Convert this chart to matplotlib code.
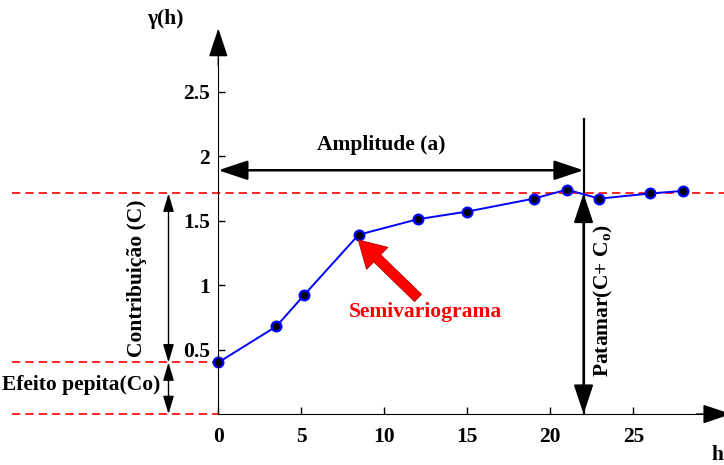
import matplotlib.pyplot as plt

# semivariogram values
lag = [0, 3.5, 5.15, 8.45, 12.0, 15.0, 19.0, 21.0, 22.95, 26.0, 28.0]
gamma = [0.40, 0.68, 0.92, 1.39, 1.51, 1.57, 1.67, 1.74, 1.67, 1.71, 1.73]

xticks = [0, 5, 10, 15, 20, 25]
yticks = [0.5, 1, 1.5, 2, 2.5]
xticklabels = ['0', '5', '10', '15', '20', '25']
yticklabels = ['0.5', '1', '1.5', '2', '2.5']

nugget = 0.40     # Co
sill = 1.71       # C + Co
rng = 22.0        # a
note_x = -3.0     # x of the C / Co arrows

plt.rcParams['font.family'] = ['Liberation Serif', 'DejaVu Serif']
plt.rcParams['font.weight'] = 'bold'
fs = 15.5

fig = plt.figure(figsize=(7.24, 4.65), dpi=100)
ax = fig.add_axes([0, 0, 1, 1])
ax.set_xlim(-13.15, 30.46)
ax.set_ylim(-0.395, 3.21)

for s in ['top', 'right']:
    ax.spines[s].set_visible(False)
ax.spines['left'].set_position(('data', 0))
ax.spines['bottom'].set_position(('data', 0))
ax.spines['left'].set_bounds(0, 2.9)
ax.spines['bottom'].set_bounds(0, 30.5)
ax.set_xticks(xticks)
ax.set_xticklabels(xticklabels)
ax.set_yticks(yticks)
ax.set_yticklabels(yticklabels)
ax.tick_params(direction='in', length=5, labelsize=fs, width=1)
ax.tick_params(axis='x', pad=9)
ax.tick_params(axis='y', pad=6)
for lab in ax.get_xticklabels() + ax.get_yticklabels():
    lab.set_fontweight('bold')


def arrow(x0, y0, x1, y1, style, hl, hw, ms, lw):
    ax.annotate('', xy=(x1, y1), xytext=(x0, y0), annotation_clip=False,
                arrowprops=dict(arrowstyle=f'{style},head_length={hl},head_width={hw}',
                                mutation_scale=ms, color='black', lw=lw,
                                shrinkA=0, shrinkB=0))


# axis arrow heads
arrow(0, 2.7, 0, 2.99, '-|>', 1.2, 0.4, 15, 1)
arrow(28.8, 0, 30.9, 0, '-|>', 1.2, 0.4, 15, 1)

# red dashed reference lines
ax.plot([-12.4, 30.46], [sill, sill], '--', color='red', lw=1.2, dashes=(5, 3))
ax.plot([-12.4, 0], [nugget, nugget], '--', color='red', lw=1.2, dashes=(5, 3))
ax.plot([-12.4, 0], [0, 0], '--', color='red', lw=1.2, dashes=(5, 3))

# range line and arrows
ax.plot([rng, rng], [0, 2.29], color='black', lw=1.6)
arrow(0, 1.89, rng, 1.89, '<|-|>', 1.2, 0.4, 15, 1.8)
arrow(rng, 0, rng, sill, '<|-|>', 1.2, 0.4, 15, 1.6)
arrow(note_x, nugget, note_x, sill, '<|-|>', 1.0, 0.3, 11, 1)
arrow(note_x, 0, note_x, nugget, '<|-|>', 1.0, 0.3, 11, 1)

# semivariogram
ax.plot(lag, gamma, color='blue', lw=1.4, marker='o', markersize=7,
        markerfacecolor='black', markeredgecolor='blue', markeredgewidth=1.6)

# red pointer to the curve
ax.annotate('', xy=(8.43, 1.35), xytext=(12.03, 0.90),
            arrowprops=dict(arrowstyle='simple,head_length=0.95,head_width=1.1,tail_width=0.36',
                            mutation_scale=20, facecolor='red', edgecolor='#b00000',
                            lw=0.6, shrinkA=0, shrinkB=0))

# labels
ax.text(9.8, 2.085, 'Amplitude (a)', ha='center', va='center', fontsize=fs, fontweight='bold')
ax.text(12.5, 0.79, 'Semivariograma', ha='center', va='center', fontsize=fs,
        fontweight='bold', color='red')
ax.text(-4.9, 1.05, 'Contribuição (C)', ha='center', va='center', fontsize=fs,
        fontweight='bold', rotation=90)
ax.text(-3.5, 0.225, 'Efeito pepita(Co)', ha='right', va='center', fontsize=fs,
        fontweight='bold')
ax.text(23.2, 0.88, r'Patamar(C+ C$_\mathregular{o}$)', ha='center', va='center',
        fontsize=fs, fontweight='bold', rotation=90)
ax.text(-3.2, 3.06, 'γ(h)', ha='center', va='center', fontsize=fs, fontweight='bold')
ax.text(30.4, -0.32, 'h', ha='right', va='center', fontsize=fs, fontweight='bold')

fig.savefig('out.png', dpi=100)
